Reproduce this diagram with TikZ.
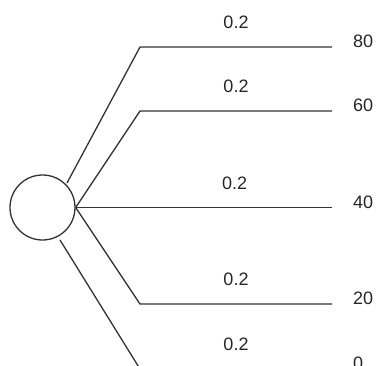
\documentclass[tikz,border=0pt]{standalone}
\usepackage{fontspec}
\setmainfont{Liberation Sans}
\usetikzlibrary{positioning}

\begin{document}
\begin{tikzpicture}[x=1pt, y=1pt, every node/.style={inner sep=0pt, text=black!85, font=\fontsize{18}{20}\selectfont}]
    % styles
    \tikzstyle{chance} = [circle, draw=black!80, line width=1.3pt, minimum size=65pt]
    \tikzstyle{branch} = [draw=black!80, line width=1.3pt]
    \tikzstyle{prob} = [above=17.5pt]
    \tikzstyle{value} = [anchor=base west]

    \useasboundingbox (0,0) rectangle (377,365);
    \clip (0,0) rectangle (377,365);

    % chance node
    \node[chance] (root) at (42.5,157.5) {};

    % branch points
    \coordinate (s1) at (67,182);
    \coordinate (s5) at (60,125);
    \coordinate (k1) at (140,318);
    \coordinate (k2) at (140,254);
    \coordinate (k4) at (140,61);
    \coordinate (k5) at (140,-4);
    \coordinate (e1) at (332,318);
    \coordinate (e2) at (332,254);
    \coordinate (e3) at (332,157.5);
    \coordinate (e4) at (332,61);
    \coordinate (e5) at (332,-4);

    % branches
    \draw[branch] (s1) -- (k1) -- node[prob] (p1) {0.2} (e1);
    \draw[branch] (root.east) -- (k2) -- node[prob] (p2) {0.2} (e2);
    \draw[branch] (root.east) -- node[prob, pos=0.62] (p3) {0.2} (e3);
    \draw[branch] (root.east) -- (k4) -- node[prob] (p4) {0.2} (e4);
    \draw[branch] (s5) -- (k5) -- node[prob] (p5) {0.2} (e5);

    % payoffs
    \node[value] (v1) at ([xshift=21pt, yshift=-0.5pt]e1) {80};
    \node[value] (v2) at ([xshift=21pt, yshift=-0.5pt]e2) {60};
    \node[value] (v3) at ([xshift=21pt, yshift=-0.5pt]e3) {40};
    \node[value] (v4) at ([xshift=21pt, yshift=-0.5pt]e4) {20};
    \node[value] (v5) at ([xshift=21pt, yshift=-0.5pt]e5) {0};
\end{tikzpicture}
\end{document}
